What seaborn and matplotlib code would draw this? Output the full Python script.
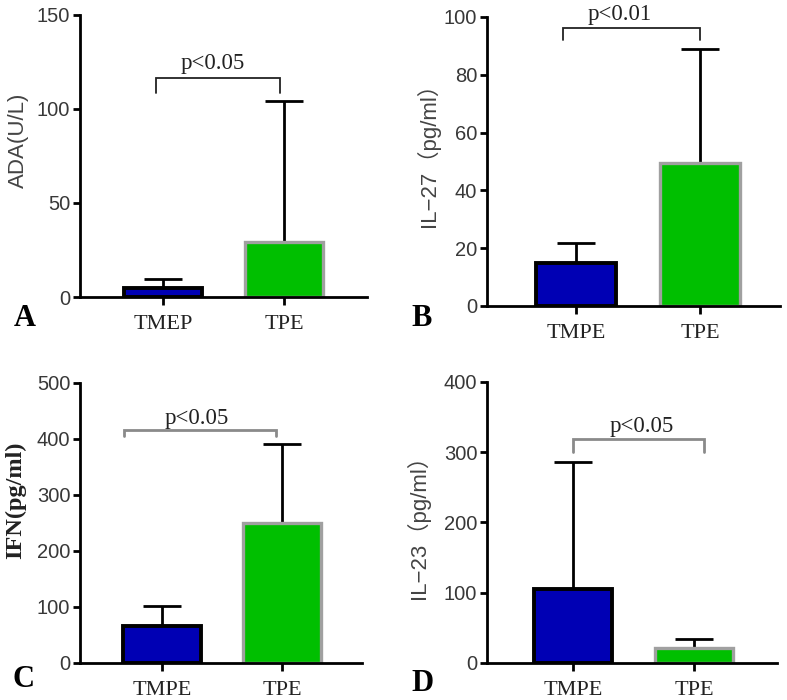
import numpy as np
import matplotlib
matplotlib.use("Agg")
import matplotlib.pyplot as plt
import seaborn as sns

sns.set_style("ticks")

SANS = ["Liberation Sans", "Noto Sans CJK SC", "DejaVu Sans"]
SERIF = ["Liberation Serif", "DejaVu Serif"]

# panel data: group means and upper SD
cats_a = ["TMEP", "TPE"]
mean_a = [5.0, 29.0]
sd_a = [4.6, 75.0]

cats_b = ["TMPE", "TPE"]
mean_b = [15.0, 49.5]
sd_b = [6.9, 39.4]

cats_c = ["TMPE", "TPE"]
mean_c = [66.0, 250.0]
sd_c = [36.0, 141.0]

cats_d = ["TMPE", "TPE"]
mean_d = [105.0, 22.0]
sd_d = [181.0, 12.0]

ylabels = ["ADA(U/L)", "IL\u221227\uff08pg/ml\uff09", "IFN(pg/ml)", "IL\u221223\uff08pg/ml\uff09"]
yticks = [[0, 50, 100, 150], [0, 20, 40, 60, 80, 100],
          [0, 100, 200, 300, 400, 500], [0, 100, 200, 300, 400]]
pvals = ["p<0.05", "p<0.01", "p<0.05", "p<0.05"]
letters = ["A", "B", "C", "D"]

blue = "#0000b4"
green = "#00bf00"

fig = plt.figure(figsize=(7.87, 7.0), dpi=100)

# axes rectangles (figure fraction)
rects = [
    [0.1017, 0.5757, 0.3647, 0.4029],
    [0.6188, 0.5629, 0.3723, 0.4129],
    [0.1017, 0.0529, 0.3583, 0.4000],
    [0.6188, 0.0529, 0.3685, 0.4014],
]
xlims = [(-0.686, 1.686), (-0.718, 1.645), (-0.683, 1.667), (-0.711, 1.686)]
label_xy = [(-0.213, 0.557), (-0.20, 0.54), (-0.23, 0.582), (-0.238, 0.502)]
# bracket: x0, x1, y top, y end, text x, text y, colour, lw
brackets = [
    (-0.058, 0.967, 116.5, 108.5, 0.41, 118.5, "#222222", 1.3),
    (-0.105, 1.0, 96.2, 92.0, 0.355, 97.2, "#222222", 1.3),
    (-0.317, 0.95, 416.0, 405.0, 0.29, 418.0, "#8a8a8a", 2.0),
    (0.0, 1.08, 319.0, 300.0, 0.57, 321.0, "#8a8a8a", 2.0),
]
letter_pos = [(0.018, 0.525), (0.523, 0.525), (0.016, 0.008), (0.523, 0.003)]

panels = [(cats_a, mean_a, sd_a), (cats_b, mean_b, sd_b),
          (cats_c, mean_c, sd_c), (cats_d, mean_d, sd_d)]

for i, (cats, means, sds) in enumerate(panels):
    ax = fig.add_axes(rects[i])
    sns.barplot(x=cats, y=means, hue=cats, palette=[blue, green],
                width=0.65, errorbar=None, legend=False, ax=ax,
                linewidth=2.5, saturation=1)
    for patch, ec, lw in zip(ax.patches, ["black", "#a0a0a0"], [2.8, 2.4]):
        patch.set_edgecolor(ec)
        patch.set_linewidth(lw)
    ax.errorbar(x=[0, 1], y=means, yerr=[np.zeros(2), sds], fmt="none",
                ecolor="black", elinewidth=2, capsize=14, capthick=2, zorder=0.5)

    ax.set_xlim(*xlims[i])
    ax.set_ylim(0, yticks[i][-1])
    ax.set_yticks(yticks[i])
    sns.despine(ax=ax)
    for s in ["left", "bottom"]:
        ax.spines[s].set_linewidth(2)
        ax.spines[s].set_color("black")
    ax.tick_params(axis="y", length=5, width=2, pad=2, labelsize=14.5,
                   labelcolor="#383838", color="black")
    ax.tick_params(axis="x", length=6, width=2, pad=7, labelsize=16,
                   labelcolor="#222222", color="black")
    for t in ax.get_yticklabels():
        t.set_family(SANS)
    for t in ax.get_xticklabels():
        t.set_family(SERIF)

    if i == 2:
        ax.set_ylabel(ylabels[i], family=SERIF, fontsize=17.5, fontweight="bold", color="#222222")
    else:
        ax.set_ylabel(ylabels[i], family=SANS, fontsize=16, color="#444444")
    ax.yaxis.label.set_rotation_mode("default")
    ax.yaxis.label.set_va("center")
    ax.yaxis.label.set_ha("center")
    ax.yaxis.set_label_coords(*label_xy[i])
    ax.set_xlabel("")

    x0, x1, yt, ye, tx, ty, col, lw = brackets[i]
    ax.plot([x0, x0, x1, x1], [ye, yt, yt, ye], color=col, lw=lw, clip_on=False,
            solid_joinstyle="miter")
    ax.text(tx, ty, pvals[i], ha="center", va="bottom", fontsize=16.5,
            family=SERIF, color="#222222", clip_on=False)

    fig.text(letter_pos[i][0], letter_pos[i][1], letters[i], fontsize=22,
             fontweight="bold", family=SERIF, color="black", ha="left", va="bottom")

fig.savefig("out.png", dpi=100)
